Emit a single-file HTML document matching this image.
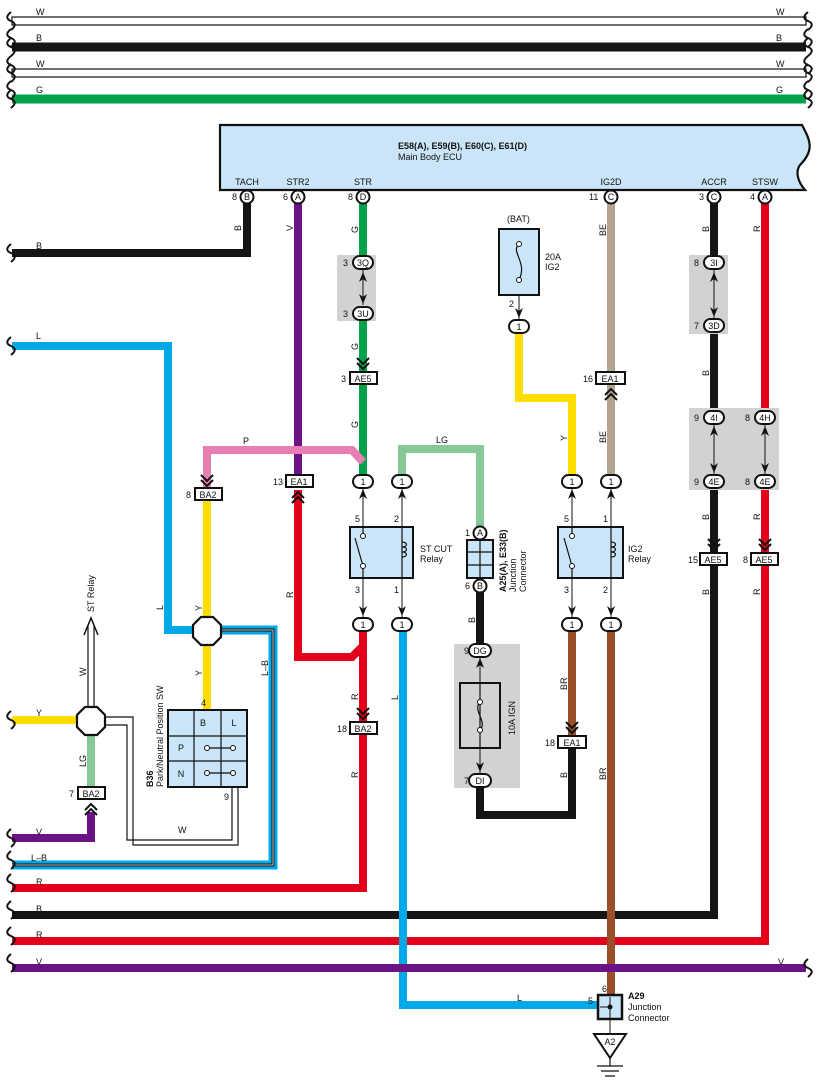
<!DOCTYPE html>
<html><head><meta charset="utf-8"><style>
html,body{margin:0;padding:0;background:#fff}
svg{display:block}
text{font-family:"Liberation Sans",Arial,sans-serif;font-size:9px;fill:#111}
.b{font-weight:bold}
</style></head><body>
<svg width="818" height="1087" viewBox="0 0 818 1087" xmlns="http://www.w3.org/2000/svg">
<defs>
<path id="wv" d="M0,-9 C-5,-5 -5,-2 0,0 C5,2 5,5 0,9" fill="none" stroke="#111" stroke-width="2"/>
<g id="chd"><path d="M-6,-8 L0,-2 L6,-8 M-6,-3 L0,3 L6,-3" fill="none" stroke="#111" stroke-width="2"/></g>
<g id="chu"><path d="M-6,8 L0,2 L6,8 M-6,3 L0,-3 L6,3" fill="none" stroke="#111" stroke-width="2"/></g>
<g id="ad"><path d="M-4,-6 L0,4 L4,-6 L0,-3Z" fill="#111"/></g>
<g id="au"><path d="M-4,6 L0,-4 L4,6 L0,3Z" fill="#111"/></g>
</defs>

<!-- top bus -->
<g stroke-linecap="butt">
<rect x="12" y="17" width="794" height="8" fill="#fff" stroke="#111" stroke-width="1.2"/>
<line x1="12" y1="47" x2="806" y2="47" stroke="#151515" stroke-width="9"/>
<rect x="12" y="69" width="794" height="8" fill="#fff" stroke="#111" stroke-width="1.2"/>
<line x1="12" y1="99" x2="806" y2="99" stroke="#00a14b" stroke-width="9"/>
</g>
<g fill="none">
<use href="#wv" x="11" y="21"/><use href="#wv" x="11" y="38"/><use href="#wv" x="11" y="47"/><use href="#wv" x="11" y="65"/><use href="#wv" x="11" y="73"/><use href="#wv" x="11" y="90"/><use href="#wv" x="11" y="99"/>
<use href="#wv" x="808" y="21"/><use href="#wv" x="808" y="38"/><use href="#wv" x="808" y="47"/><use href="#wv" x="808" y="65"/><use href="#wv" x="808" y="73"/><use href="#wv" x="808" y="90"/><use href="#wv" x="808" y="99"/>
</g>
<text x="36" y="15">W</text><text x="776" y="15">W</text>
<text x="36" y="41">B</text><text x="776" y="41">B</text>
<text x="36" y="67">W</text><text x="776" y="67">W</text>
<text x="36" y="93">G</text><text x="776" y="93">G</text>

<!-- ECU -->
<path d="M220,125 L802,125 C810,140 815,150 800,165 C795,172 798,182 805,190 L220,190Z" fill="#c9e5f7" stroke="#111" stroke-width="2.2"/>
<text x="398" y="149" class="b">E58(A), E59(B), E60(C), E61(D)</text>
<text x="398" y="160">Main Body ECU</text>
<text x="247" y="185" text-anchor="middle">TACH</text>
<text x="298" y="185" text-anchor="middle">STR2</text>
<text x="363" y="185" text-anchor="middle">STR</text>
<text x="611" y="185" text-anchor="middle">IG2D</text>
<text x="714" y="185" text-anchor="middle">ACCR</text>
<text x="765" y="185" text-anchor="middle">STSW</text>

<!-- wires -->
<g fill="none" stroke-width="8" stroke-linejoin="miter">
<polyline points="247,200 247,253 12,253" stroke="#151515"/>
<polyline points="298,200 298,475" stroke="#6a1286"/>
<polyline points="363,200 363,475" stroke="#00a14b"/>
<polyline points="207,490 207,450 352,450 363,462" stroke="#e77fb3"/>
<polyline points="402,475 402,449 480,449 480,527" stroke="#86c996"/>
<polyline points="519,332 519,398 572,398 572,475" stroke="#ffdd00"/>
<polyline points="611,200 611,375" stroke="#b3a48f"/>
<polyline points="611,385 611,475" stroke="#b3a48f"/>
<polyline points="714,200 714,915 12,915" stroke="#151515"/>
<polyline points="765,200 765,941 12,941" stroke="#e2001a"/>
<polyline points="298,490 298,657 352,657 363,646" stroke="#e2001a"/>
<polyline points="363,630 363,888 12,888" stroke="#e2001a"/>
<polyline points="403,630 403,1005 598,1005" stroke="#00a8e8"/>
<polyline points="12,346 168,346 168,630 200,630" stroke="#00a8e8"/>
<polyline points="207,500 207,710" stroke="#ffdd00"/>
<polyline points="480,590 480,650" stroke="#151515"/>
<polyline points="480,785 480,815 572,815 572,748" stroke="#151515"/>
<polyline points="572,630 572,736" stroke="#9a4f2a"/>
<polyline points="611,630 611,1000" stroke="#9a4f2a"/>
<polyline points="12,720 82,720" stroke="#ffdd00"/>
<polyline points="91,730 91,788" stroke="#86c996"/>
<polyline points="12,838 91,838 91,812" stroke="#6a1286"/>
<line x1="12" y1="968" x2="806" y2="968" stroke="#6a1286"/>
</g>
<!-- L-B -->
<polyline points="220,630 273,630 273,865 12,865" fill="none" stroke="#00a8e8" stroke-width="9"/>
<polyline points="220,630 273,630 273,865 12,865" fill="none" stroke="#111" stroke-width="3"/>
<polyline points="220,630 273,630 273,865 12,865" fill="none" stroke="#fff" stroke-width="0.8"/>
<!-- W double lines -->
<path d="M88,710 V625 M94,710 V625" stroke="#111" stroke-width="1.2"/>
<path d="M84,635 L91,618 L98,635" fill="none" stroke="#111" stroke-width="1.5"/>
<path d="M104,717 H133 V845 H238 V787 M104,725 H127 V840 H232 V787" fill="none" stroke="#111" stroke-width="1.2"/>

<!-- bottom left wavy -->
<use href="#wv" x="11" y="253"/><use href="#wv" x="11" y="346"/><use href="#wv" x="11" y="720"/><use href="#wv" x="11" y="838"/><use href="#wv" x="11" y="860"/><use href="#wv" x="11" y="883"/><use href="#wv" x="11" y="910"/><use href="#wv" x="11" y="936"/><use href="#wv" x="11" y="963"/><use href="#wv" x="808" y="968"/>

<!-- bus labels -->
<text x="36" y="249">B</text><text x="36" y="339">L</text><text x="36" y="716">Y</text><text x="36" y="835">V</text>
<text x="31" y="861">L–B</text><text x="36" y="885">R</text><text x="36" y="912">B</text><text x="36" y="938">R</text><text x="36" y="965">V</text><text x="778" y="965">V</text>
<text x="243" y="444">P</text><text x="436" y="443">LG</text><text x="178" y="833">W</text><text x="517" y="1001">L</text>

<!-- rotated wire labels -->
<g>
<text transform="translate(241,231) rotate(-90)">B</text>
<text transform="translate(293,231) rotate(-90)">V</text>
<text transform="translate(358,233) rotate(-90)">G</text>
<text transform="translate(358,350) rotate(-90)">G</text>
<text transform="translate(358,428) rotate(-90)">G</text>
<text transform="translate(606,236) rotate(-90)">BE</text>
<text transform="translate(606,443) rotate(-90)">BE</text>
<text transform="translate(567,441) rotate(-90)">Y</text>
<text transform="translate(709,232) rotate(-90)">B</text>
<text transform="translate(709,376) rotate(-90)">B</text>
<text transform="translate(709,520) rotate(-90)">B</text>
<text transform="translate(709,595) rotate(-90)">B</text>
<text transform="translate(760,232) rotate(-90)">R</text>
<text transform="translate(760,520) rotate(-90)">R</text>
<text transform="translate(760,595) rotate(-90)">R</text>
<text transform="translate(293,598) rotate(-90)">R</text>
<text transform="translate(358,700) rotate(-90)">R</text>
<text transform="translate(358,778) rotate(-90)">R</text>
<text transform="translate(398,700) rotate(-90)">L</text>
<text transform="translate(475,623) rotate(-90)">B</text>
<text transform="translate(567,690) rotate(-90)">BR</text>
<text transform="translate(567,778) rotate(-90)">B</text>
<text transform="translate(606,780) rotate(-90)">BR</text>
<text transform="translate(163,610) rotate(-90)">L</text>
<text transform="translate(202,611) rotate(-90)">Y</text>
<text transform="translate(202,676) rotate(-90)">Y</text>
<text transform="translate(268,676) rotate(-90)">L–B</text>
<text transform="translate(86,676) rotate(-90)">W</text>
<text transform="translate(86,767) rotate(-90)">LG</text>
<text transform="translate(94,612) rotate(-90)">ST Relay</text>
</g>

<!-- ECU pin circles -->
<g stroke="#111" stroke-width="2" fill="#fff">
<circle cx="247" cy="197" r="6.5"/><circle cx="298" cy="197" r="6.5"/><circle cx="363" cy="197" r="6.5"/>
<circle cx="611" cy="197" r="6.5"/><circle cx="714" cy="197" r="6.5"/><circle cx="765" cy="197" r="6.5"/>
</g>
<g text-anchor="middle" font-size="8">
<text x="247" y="200">B</text><text x="298" y="200">A</text><text x="363" y="200">D</text><text x="611" y="200">C</text><text x="714" y="200">C</text><text x="765" y="200">A</text>
</g>
<text x="232" y="200">8</text><text x="283" y="200">6</text><text x="348" y="200">8</text><text x="589" y="200">11</text><text x="699" y="200">3</text><text x="750" y="200">4</text>

<!-- grey boxes -->
<g fill="#d1d2d4">
<rect x="337" y="255" width="39" height="66"/>
<rect x="689" y="255" width="39" height="79"/>
<rect x="689" y="408" width="90" height="82"/>
<rect x="454" y="644" width="66" height="144"/>
</g>
<g stroke="#111" stroke-width="1">
<line x1="363" y1="270" x2="363" y2="305"/><line x1="714" y1="270" x2="714" y2="318"/>
<line x1="714" y1="424" x2="714" y2="474"/><line x1="765" y1="424" x2="765" y2="474"/>
<line x1="363" y1="487" x2="363" y2="618"/><line x1="402" y1="487" x2="402" y2="618"/>
<line x1="572" y1="487" x2="572" y2="618"/><line x1="611" y1="487" x2="611" y2="618"/>
<line x1="519" y1="280" x2="519" y2="320"/>
<line x1="480" y1="656" x2="480" y2="774"/>
</g>
<use href="#au" x="363" y="276"/><use href="#ad" x="363" y="300"/>
<use href="#au" x="714" y="276"/><use href="#ad" x="714" y="313"/>
<use href="#au" x="714" y="430"/><use href="#ad" x="714" y="469"/>
<use href="#au" x="765" y="430"/><use href="#ad" x="765" y="469"/>
<use href="#au" x="363" y="493"/><use href="#au" x="402" y="493"/><use href="#au" x="572" y="493"/><use href="#au" x="611" y="493"/>
<use href="#ad" x="363" y="612"/><use href="#ad" x="402" y="612"/><use href="#ad" x="572" y="612"/><use href="#ad" x="611" y="612"/>
<use href="#ad" x="519" y="314"/><use href="#au" x="480" y="662"/><use href="#ad" x="480" y="768"/>

<!-- oval connectors -->
<g stroke="#111" stroke-width="2" fill="#fff">
<rect x="353" y="256" width="20" height="13" rx="6.5"/><rect x="353" y="307" width="20" height="13" rx="6.5"/>
<rect x="704" y="256" width="20" height="13" rx="6.5"/><rect x="704" y="319" width="20" height="13" rx="6.5"/>
<rect x="704" y="411" width="20" height="13" rx="6.5"/><rect x="704" y="475" width="20" height="13" rx="6.5"/>
<rect x="755" y="411" width="20" height="13" rx="6.5"/><rect x="755" y="475" width="20" height="13" rx="6.5"/>
<rect x="353" y="475" width="20" height="13" rx="6.5"/><rect x="392" y="475" width="20" height="13" rx="6.5"/>
<rect x="562" y="475" width="20" height="13" rx="6.5"/><rect x="601" y="475" width="20" height="13" rx="6.5"/>
<rect x="353" y="618" width="20" height="13" rx="6.5"/><rect x="392" y="618" width="20" height="13" rx="6.5"/>
<rect x="562" y="618" width="20" height="13" rx="6.5"/><rect x="601" y="618" width="20" height="13" rx="6.5"/>
<rect x="509" y="320" width="20" height="13" rx="6.5"/>
<rect x="469" y="644" width="22" height="13" rx="6.5"/><rect x="469" y="774" width="22" height="13" rx="6.5"/>
<circle cx="480" cy="533" r="6.5"/><circle cx="480" cy="586" r="6.5"/>
</g>
<g text-anchor="middle" font-size="8.5">
<text x="363" y="266">3Q</text><text x="363" y="317">3U</text>
<text x="714" y="266">3I</text><text x="714" y="329">3D</text>
<text x="714" y="421">4I</text><text x="714" y="485">4E</text>
<text x="765" y="421">4H</text><text x="765" y="485">4E</text>
<text x="363" y="485">1</text><text x="402" y="485">1</text><text x="572" y="485">1</text><text x="611" y="485">1</text>
<text x="363" y="628">1</text><text x="402" y="628">1</text><text x="572" y="628">1</text><text x="611" y="628">1</text>
<text x="519" y="330">1</text><text x="480" y="654">DG</text><text x="480" y="784">DI</text>
<text x="480" y="536">A</text><text x="480" y="589">B</text>
</g>
<text x="343" y="266">3</text><text x="343" y="317">3</text>
<text x="694" y="266">8</text><text x="694" y="329">7</text>
<text x="694" y="421">9</text><text x="694" y="485">9</text>
<text x="745" y="421">8</text><text x="745" y="485">8</text>
<text x="464" y="654">9</text><text x="464" y="784">7</text>
<text x="465" y="536">1</text><text x="465" y="589">6</text>

<!-- rectangular connectors -->
<g stroke="#111" stroke-width="2" fill="#fff">
<rect x="350" y="372" width="27" height="12"/><rect x="286" y="475" width="27" height="12"/>
<rect x="195" y="488" width="27" height="12"/><rect x="596" y="372" width="29" height="12"/>
<rect x="700" y="553" width="27" height="12"/><rect x="751" y="553" width="27" height="12"/>
<rect x="350" y="722" width="27" height="12"/><rect x="558" y="736" width="28" height="12"/>
<rect x="78" y="787" width="27" height="12"/>
</g>
<g text-anchor="middle" font-size="9">
<text x="363" y="382">AE5</text><text x="299" y="485">EA1</text><text x="208" y="498">BA2</text>
<text x="610" y="382">EA1</text><text x="713" y="563">AE5</text><text x="764" y="563">AE5</text>
<text x="363" y="732">BA2</text><text x="572" y="746">EA1</text><text x="91" y="797">BA2</text>
</g>
<text x="341" y="382">3</text><text x="273" y="485">13</text><text x="186" y="498">8</text><text x="583" y="382">16</text>
<text x="688" y="563">15</text><text x="743" y="563">8</text><text x="337" y="732">18</text><text x="545" y="746">18</text><text x="69" y="797">7</text>
<use href="#chd" x="363" y="366"/><use href="#chu" x="298" y="495"/><use href="#chd" x="207" y="483"/>
<use href="#chu" x="611" y="392"/><use href="#chd" x="714" y="547"/><use href="#chd" x="765" y="547"/>
<use href="#chd" x="363" y="716"/><use href="#chd" x="572" y="730"/><use href="#chu" x="91" y="807"/>

<!-- relays -->
<g stroke="#111" stroke-width="2" fill="#c9e5f7">
<rect x="350" y="527" width="63" height="51"/><rect x="558" y="527" width="65" height="51"/>
<rect x="499" y="229" width="40" height="66"/>
<rect x="467" y="540" width="26" height="38" fill="#c9e5f7"/>
<rect x="168" y="710" width="79" height="77"/>
</g>
<g stroke="#111" stroke-width="1.2" fill="none">
<path d="M363,527 V536 M363,566 V578 M402,527 V578 M363,566 L355,538"/>
<path d="M572,527 V536 M572,566 V578 M611,527 V578 M572,566 L564,538"/>
<path d="M402,542 c6,0 6,5 0,5 c6,0 6,5 0,5 c6,0 6,5 0,5"/>
<path d="M611,542 c6,0 6,5 0,5 c6,0 6,5 0,5 c6,0 6,5 0,5"/>
<path d="M519,244 C510,252 528,262 519,280"/>
<path d="M480,683 V748 M480,702 C472,710 488,722 480,730"/>
<path d="M467,552 H493 M467,565 H493 M480,540 V578"/>
<path d="M168,736 H247 M168,761 H247 M194,710 V787 M221,710 V787"/>
<path d="M207,748 H233 M207,773 H233"/>
</g>
<rect x="460" y="683" width="40" height="65" fill="none" stroke="#111" stroke-width="2"/>
<g fill="#fff" stroke="#111" stroke-width="1">
<circle cx="363" cy="536" r="2.5"/><circle cx="363" cy="566" r="2.5"/>
<circle cx="572" cy="536" r="2.5"/><circle cx="572" cy="566" r="2.5"/>
<circle cx="519" cy="244" r="2.5"/><circle cx="519" cy="280" r="2.5"/>
<circle cx="480" cy="702" r="2.5"/><circle cx="480" cy="730" r="2.5"/>
<circle cx="207" cy="748" r="2.5"/><circle cx="233" cy="748" r="2.5"/><circle cx="207" cy="773" r="2.5"/><circle cx="233" cy="773" r="2.5"/>
</g>
<text x="355" y="522">5</text><text x="394" y="522">2</text><text x="355" y="593">3</text><text x="394" y="593">1</text>
<text x="564" y="522">5</text><text x="603" y="522">1</text><text x="564" y="593">3</text><text x="603" y="593">2</text>
<text x="420" y="552">ST CUT</text><text x="420" y="562">Relay</text>
<text x="628" y="552">IG2</text><text x="628" y="562">Relay</text>
<text x="507" y="222">(BAT)</text><text x="545" y="260">20A</text><text x="545" y="270">IG2</text><text x="509" y="307">2</text>
<text transform="translate(515,735) rotate(-90)">10A IGN</text>
<text transform="translate(506,592) rotate(-90)" class="b">A25(A),  E33(B)</text>
<text transform="translate(516,592) rotate(-90)">Junction</text>
<text transform="translate(526,592) rotate(-90)">Connector</text>
<text x="203" y="726" text-anchor="middle">B</text><text x="234" y="726" text-anchor="middle">L</text>
<text x="181" y="751" text-anchor="middle">P</text><text x="181" y="777" text-anchor="middle">N</text>
<text x="201" y="706">4</text><text x="224" y="800">9</text>
<text transform="translate(153,787) rotate(-90)" class="b">B36</text>
<text transform="translate(163,787) rotate(-90)">Park/Neutral Position SW</text>

<!-- octagons -->
<polygon points="201,617 213,617 221,625 221,637 213,645 201,645 193,637 193,625" fill="#fff" stroke="#111" stroke-width="2.2"/>
<polygon points="85,707 97,707 105,715 105,727 97,735 85,735 77,727 77,715" fill="#fff" stroke="#111" stroke-width="2.2"/>

<!-- A29 -->
<rect x="598" y="995" width="24" height="24" fill="#c9e5f7" stroke="#111" stroke-width="2.5"/>
<path d="M610,997 V1035 M600,1007 H610" stroke="#111" stroke-width="1"/>
<circle cx="610" cy="1007" r="2.5" fill="#111"/>
<text x="602" y="992">6</text><text x="588" y="1004">5</text>
<text x="628" y="999" class="b">A29</text><text x="628" y="1010">Junction</text><text x="628" y="1021">Connector</text>
<polygon points="594,1034 626,1034 610,1058" fill="#fff" stroke="#111" stroke-width="2"/>
<text x="610" y="1045" text-anchor="middle" font-size="8">A2</text>
<path d="M610,1058 V1066 M597,1066 H623 M601,1071 H619 M605,1076 H615" stroke="#111" stroke-width="1.2"/>
</svg>
</body></html>
